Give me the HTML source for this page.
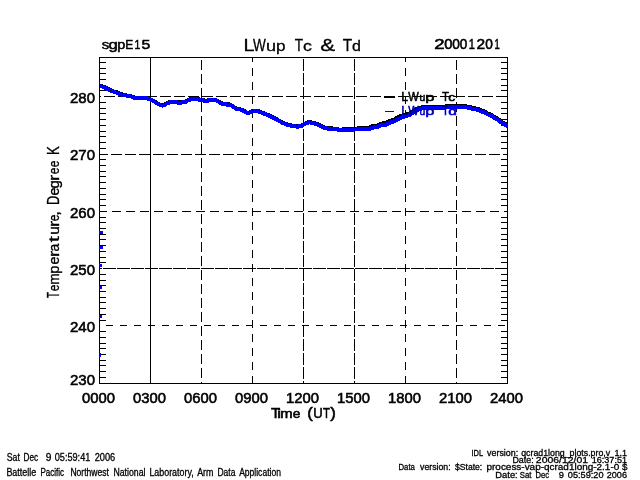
<!DOCTYPE html>
<html><head><meta charset="utf-8"><title>LWup Tc &amp; Td</title>
<style>
html,body{margin:0;padding:0;background:#fff;width:640px;height:480px;overflow:hidden}
svg{display:block}
text{font-family:"Liberation Sans",Arial,sans-serif;fill:#000}
</style></head><body>
<svg width="640" height="480" viewBox="0 0 640 480">
<rect x="0" y="0" width="640" height="480" fill="#fff"/>
<g shape-rendering="crispEdges">
<rect x="99" y="96" width="2" height="1" fill="#000"/><rect x="104" y="96" width="11" height="1" fill="#000"/><rect x="118" y="96" width="11" height="1" fill="#000"/><rect x="132" y="96" width="11" height="1" fill="#000"/><rect x="146" y="96" width="11" height="1" fill="#000"/><rect x="160" y="96" width="11" height="1" fill="#000"/><rect x="174" y="96" width="11" height="1" fill="#000"/><rect x="188" y="96" width="11" height="1" fill="#000"/><rect x="202" y="96" width="11" height="1" fill="#000"/><rect x="216" y="96" width="11" height="1" fill="#000"/><rect x="230" y="96" width="11" height="1" fill="#000"/><rect x="244" y="96" width="11" height="1" fill="#000"/><rect x="258" y="96" width="11" height="1" fill="#000"/><rect x="272" y="96" width="11" height="1" fill="#000"/><rect x="286" y="96" width="11" height="1" fill="#000"/><rect x="300" y="96" width="11" height="1" fill="#000"/><rect x="314" y="96" width="11" height="1" fill="#000"/><rect x="328" y="96" width="11" height="1" fill="#000"/><rect x="342" y="96" width="11" height="1" fill="#000"/><rect x="356" y="96" width="11" height="1" fill="#000"/><rect x="370" y="96" width="11" height="1" fill="#000"/><rect x="384" y="96" width="11" height="1" fill="#000"/><rect x="398" y="96" width="11" height="1" fill="#000"/><rect x="412" y="96" width="11" height="1" fill="#000"/><rect x="426" y="96" width="11" height="1" fill="#000"/><rect x="440" y="96" width="11" height="1" fill="#000"/><rect x="454" y="96" width="11" height="1" fill="#000"/><rect x="468" y="96" width="11" height="1" fill="#000"/><rect x="482" y="96" width="11" height="1" fill="#000"/><rect x="496" y="96" width="11" height="1" fill="#000"/><rect x="99" y="154" width="9" height="1" fill="#000"/><rect x="111" y="154" width="11" height="1" fill="#000"/><rect x="125" y="154" width="11" height="1" fill="#000"/><rect x="139" y="154" width="11" height="1" fill="#000"/><rect x="153" y="154" width="11" height="1" fill="#000"/><rect x="167" y="154" width="11" height="1" fill="#000"/><rect x="181" y="154" width="11" height="1" fill="#000"/><rect x="195" y="154" width="11" height="1" fill="#000"/><rect x="209" y="154" width="11" height="1" fill="#000"/><rect x="223" y="154" width="11" height="1" fill="#000"/><rect x="237" y="154" width="11" height="1" fill="#000"/><rect x="251" y="154" width="11" height="1" fill="#000"/><rect x="265" y="154" width="11" height="1" fill="#000"/><rect x="279" y="154" width="11" height="1" fill="#000"/><rect x="293" y="154" width="11" height="1" fill="#000"/><rect x="307" y="154" width="11" height="1" fill="#000"/><rect x="321" y="154" width="11" height="1" fill="#000"/><rect x="335" y="154" width="11" height="1" fill="#000"/><rect x="349" y="154" width="11" height="1" fill="#000"/><rect x="363" y="154" width="11" height="1" fill="#000"/><rect x="377" y="154" width="11" height="1" fill="#000"/><rect x="391" y="154" width="11" height="1" fill="#000"/><rect x="405" y="154" width="11" height="1" fill="#000"/><rect x="419" y="154" width="11" height="1" fill="#000"/><rect x="433" y="154" width="11" height="1" fill="#000"/><rect x="447" y="154" width="11" height="1" fill="#000"/><rect x="461" y="154" width="11" height="1" fill="#000"/><rect x="475" y="154" width="11" height="1" fill="#000"/><rect x="489" y="154" width="11" height="1" fill="#000"/><rect x="503" y="154" width="5" height="1" fill="#000"/><rect x="99" y="211" width="8" height="1" fill="#000"/><rect x="112" y="211" width="9" height="1" fill="#000"/><rect x="126" y="211" width="9" height="1" fill="#000"/><rect x="140" y="211" width="9" height="1" fill="#000"/><rect x="154" y="211" width="9" height="1" fill="#000"/><rect x="168" y="211" width="9" height="1" fill="#000"/><rect x="182" y="211" width="9" height="1" fill="#000"/><rect x="196" y="211" width="9" height="1" fill="#000"/><rect x="210" y="211" width="9" height="1" fill="#000"/><rect x="224" y="211" width="9" height="1" fill="#000"/><rect x="238" y="211" width="9" height="1" fill="#000"/><rect x="252" y="211" width="9" height="1" fill="#000"/><rect x="266" y="211" width="9" height="1" fill="#000"/><rect x="280" y="211" width="9" height="1" fill="#000"/><rect x="294" y="211" width="9" height="1" fill="#000"/><rect x="308" y="211" width="9" height="1" fill="#000"/><rect x="322" y="211" width="9" height="1" fill="#000"/><rect x="336" y="211" width="9" height="1" fill="#000"/><rect x="350" y="211" width="9" height="1" fill="#000"/><rect x="364" y="211" width="9" height="1" fill="#000"/><rect x="378" y="211" width="9" height="1" fill="#000"/><rect x="392" y="211" width="9" height="1" fill="#000"/><rect x="406" y="211" width="9" height="1" fill="#000"/><rect x="420" y="211" width="9" height="1" fill="#000"/><rect x="434" y="211" width="9" height="1" fill="#000"/><rect x="448" y="211" width="9" height="1" fill="#000"/><rect x="462" y="211" width="9" height="1" fill="#000"/><rect x="476" y="211" width="9" height="1" fill="#000"/><rect x="490" y="211" width="9" height="1" fill="#000"/><rect x="504" y="211" width="4" height="1" fill="#000"/><rect x="99" y="268" width="3" height="1" fill="#000"/><rect x="103" y="268" width="13" height="1" fill="#000"/><rect x="117" y="268" width="13" height="1" fill="#000"/><rect x="131" y="268" width="13" height="1" fill="#000"/><rect x="145" y="268" width="13" height="1" fill="#000"/><rect x="159" y="268" width="13" height="1" fill="#000"/><rect x="173" y="268" width="13" height="1" fill="#000"/><rect x="187" y="268" width="13" height="1" fill="#000"/><rect x="201" y="268" width="13" height="1" fill="#000"/><rect x="215" y="268" width="13" height="1" fill="#000"/><rect x="229" y="268" width="13" height="1" fill="#000"/><rect x="243" y="268" width="13" height="1" fill="#000"/><rect x="257" y="268" width="13" height="1" fill="#000"/><rect x="271" y="268" width="13" height="1" fill="#000"/><rect x="285" y="268" width="13" height="1" fill="#000"/><rect x="299" y="268" width="13" height="1" fill="#000"/><rect x="313" y="268" width="13" height="1" fill="#000"/><rect x="327" y="268" width="13" height="1" fill="#000"/><rect x="341" y="268" width="13" height="1" fill="#000"/><rect x="355" y="268" width="13" height="1" fill="#000"/><rect x="369" y="268" width="13" height="1" fill="#000"/><rect x="383" y="268" width="13" height="1" fill="#000"/><rect x="397" y="268" width="13" height="1" fill="#000"/><rect x="411" y="268" width="13" height="1" fill="#000"/><rect x="425" y="268" width="13" height="1" fill="#000"/><rect x="439" y="268" width="13" height="1" fill="#000"/><rect x="453" y="268" width="13" height="1" fill="#000"/><rect x="467" y="268" width="13" height="1" fill="#000"/><rect x="481" y="268" width="13" height="1" fill="#000"/><rect x="495" y="268" width="13" height="1" fill="#000"/><rect x="106" y="325" width="7" height="1" fill="#000"/><rect x="120" y="325" width="7" height="1" fill="#000"/><rect x="134" y="325" width="7" height="1" fill="#000"/><rect x="148" y="325" width="7" height="1" fill="#000"/><rect x="162" y="325" width="7" height="1" fill="#000"/><rect x="176" y="325" width="7" height="1" fill="#000"/><rect x="190" y="325" width="7" height="1" fill="#000"/><rect x="204" y="325" width="7" height="1" fill="#000"/><rect x="218" y="325" width="7" height="1" fill="#000"/><rect x="232" y="325" width="7" height="1" fill="#000"/><rect x="246" y="325" width="7" height="1" fill="#000"/><rect x="260" y="325" width="7" height="1" fill="#000"/><rect x="274" y="325" width="7" height="1" fill="#000"/><rect x="288" y="325" width="7" height="1" fill="#000"/><rect x="302" y="325" width="7" height="1" fill="#000"/><rect x="316" y="325" width="7" height="1" fill="#000"/><rect x="330" y="325" width="7" height="1" fill="#000"/><rect x="344" y="325" width="7" height="1" fill="#000"/><rect x="358" y="325" width="7" height="1" fill="#000"/><rect x="372" y="325" width="7" height="1" fill="#000"/><rect x="386" y="325" width="7" height="1" fill="#000"/><rect x="400" y="325" width="7" height="1" fill="#000"/><rect x="414" y="325" width="7" height="1" fill="#000"/><rect x="428" y="325" width="7" height="1" fill="#000"/><rect x="442" y="325" width="7" height="1" fill="#000"/><rect x="456" y="325" width="7" height="1" fill="#000"/><rect x="470" y="325" width="7" height="1" fill="#000"/><rect x="484" y="325" width="7" height="1" fill="#000"/><rect x="498" y="325" width="7" height="1" fill="#000"/><rect x="150" y="57" width="1" height="327" fill="#000"/><rect x="201" y="60" width="1" height="10" fill="#000"/><rect x="201" y="74" width="1" height="10" fill="#000"/><rect x="201" y="88" width="1" height="10" fill="#000"/><rect x="201" y="102" width="1" height="10" fill="#000"/><rect x="201" y="116" width="1" height="10" fill="#000"/><rect x="201" y="130" width="1" height="10" fill="#000"/><rect x="201" y="144" width="1" height="10" fill="#000"/><rect x="201" y="158" width="1" height="10" fill="#000"/><rect x="201" y="172" width="1" height="10" fill="#000"/><rect x="201" y="186" width="1" height="10" fill="#000"/><rect x="201" y="200" width="1" height="10" fill="#000"/><rect x="201" y="214" width="1" height="10" fill="#000"/><rect x="201" y="228" width="1" height="10" fill="#000"/><rect x="201" y="242" width="1" height="10" fill="#000"/><rect x="201" y="256" width="1" height="10" fill="#000"/><rect x="201" y="270" width="1" height="10" fill="#000"/><rect x="201" y="284" width="1" height="10" fill="#000"/><rect x="201" y="298" width="1" height="10" fill="#000"/><rect x="201" y="312" width="1" height="10" fill="#000"/><rect x="201" y="326" width="1" height="10" fill="#000"/><rect x="201" y="340" width="1" height="10" fill="#000"/><rect x="201" y="354" width="1" height="10" fill="#000"/><rect x="201" y="368" width="1" height="10" fill="#000"/><rect x="201" y="382" width="1" height="2" fill="#000"/><rect x="252" y="57" width="1" height="5" fill="#000"/><rect x="252" y="68" width="1" height="8" fill="#000"/><rect x="252" y="82" width="1" height="8" fill="#000"/><rect x="252" y="96" width="1" height="8" fill="#000"/><rect x="252" y="110" width="1" height="8" fill="#000"/><rect x="252" y="124" width="1" height="8" fill="#000"/><rect x="252" y="138" width="1" height="8" fill="#000"/><rect x="252" y="152" width="1" height="8" fill="#000"/><rect x="252" y="166" width="1" height="8" fill="#000"/><rect x="252" y="180" width="1" height="8" fill="#000"/><rect x="252" y="194" width="1" height="8" fill="#000"/><rect x="252" y="208" width="1" height="8" fill="#000"/><rect x="252" y="222" width="1" height="8" fill="#000"/><rect x="252" y="236" width="1" height="8" fill="#000"/><rect x="252" y="250" width="1" height="8" fill="#000"/><rect x="252" y="264" width="1" height="8" fill="#000"/><rect x="252" y="278" width="1" height="8" fill="#000"/><rect x="252" y="292" width="1" height="8" fill="#000"/><rect x="252" y="306" width="1" height="8" fill="#000"/><rect x="252" y="320" width="1" height="8" fill="#000"/><rect x="252" y="334" width="1" height="8" fill="#000"/><rect x="252" y="348" width="1" height="8" fill="#000"/><rect x="252" y="362" width="1" height="8" fill="#000"/><rect x="252" y="376" width="1" height="8" fill="#000"/><rect x="303" y="59" width="1" height="12" fill="#000"/><rect x="303" y="73" width="1" height="12" fill="#000"/><rect x="303" y="87" width="1" height="12" fill="#000"/><rect x="303" y="101" width="1" height="12" fill="#000"/><rect x="303" y="115" width="1" height="12" fill="#000"/><rect x="303" y="129" width="1" height="12" fill="#000"/><rect x="303" y="143" width="1" height="12" fill="#000"/><rect x="303" y="157" width="1" height="12" fill="#000"/><rect x="303" y="171" width="1" height="12" fill="#000"/><rect x="303" y="185" width="1" height="12" fill="#000"/><rect x="303" y="199" width="1" height="12" fill="#000"/><rect x="303" y="213" width="1" height="12" fill="#000"/><rect x="303" y="227" width="1" height="12" fill="#000"/><rect x="303" y="241" width="1" height="12" fill="#000"/><rect x="303" y="255" width="1" height="12" fill="#000"/><rect x="303" y="269" width="1" height="12" fill="#000"/><rect x="303" y="283" width="1" height="12" fill="#000"/><rect x="303" y="297" width="1" height="12" fill="#000"/><rect x="303" y="311" width="1" height="12" fill="#000"/><rect x="303" y="325" width="1" height="12" fill="#000"/><rect x="303" y="339" width="1" height="12" fill="#000"/><rect x="303" y="353" width="1" height="12" fill="#000"/><rect x="303" y="367" width="1" height="12" fill="#000"/><rect x="303" y="381" width="1" height="3" fill="#000"/><rect x="354" y="59" width="1" height="12" fill="#000"/><rect x="354" y="73" width="1" height="12" fill="#000"/><rect x="354" y="87" width="1" height="12" fill="#000"/><rect x="354" y="101" width="1" height="12" fill="#000"/><rect x="354" y="115" width="1" height="12" fill="#000"/><rect x="354" y="129" width="1" height="12" fill="#000"/><rect x="354" y="143" width="1" height="12" fill="#000"/><rect x="354" y="157" width="1" height="12" fill="#000"/><rect x="354" y="171" width="1" height="12" fill="#000"/><rect x="354" y="185" width="1" height="12" fill="#000"/><rect x="354" y="199" width="1" height="12" fill="#000"/><rect x="354" y="213" width="1" height="12" fill="#000"/><rect x="354" y="227" width="1" height="12" fill="#000"/><rect x="354" y="241" width="1" height="12" fill="#000"/><rect x="354" y="255" width="1" height="12" fill="#000"/><rect x="354" y="269" width="1" height="12" fill="#000"/><rect x="354" y="283" width="1" height="12" fill="#000"/><rect x="354" y="297" width="1" height="12" fill="#000"/><rect x="354" y="311" width="1" height="12" fill="#000"/><rect x="354" y="325" width="1" height="12" fill="#000"/><rect x="354" y="339" width="1" height="12" fill="#000"/><rect x="354" y="353" width="1" height="12" fill="#000"/><rect x="354" y="367" width="1" height="12" fill="#000"/><rect x="354" y="381" width="1" height="3" fill="#000"/><rect x="405" y="57" width="1" height="5" fill="#000"/><rect x="405" y="68" width="1" height="8" fill="#000"/><rect x="405" y="82" width="1" height="8" fill="#000"/><rect x="405" y="96" width="1" height="8" fill="#000"/><rect x="405" y="110" width="1" height="8" fill="#000"/><rect x="405" y="124" width="1" height="8" fill="#000"/><rect x="405" y="138" width="1" height="8" fill="#000"/><rect x="405" y="152" width="1" height="8" fill="#000"/><rect x="405" y="166" width="1" height="8" fill="#000"/><rect x="405" y="180" width="1" height="8" fill="#000"/><rect x="405" y="194" width="1" height="8" fill="#000"/><rect x="405" y="208" width="1" height="8" fill="#000"/><rect x="405" y="222" width="1" height="8" fill="#000"/><rect x="405" y="236" width="1" height="8" fill="#000"/><rect x="405" y="250" width="1" height="8" fill="#000"/><rect x="405" y="264" width="1" height="8" fill="#000"/><rect x="405" y="278" width="1" height="8" fill="#000"/><rect x="405" y="292" width="1" height="8" fill="#000"/><rect x="405" y="306" width="1" height="8" fill="#000"/><rect x="405" y="320" width="1" height="8" fill="#000"/><rect x="405" y="334" width="1" height="8" fill="#000"/><rect x="405" y="348" width="1" height="8" fill="#000"/><rect x="405" y="362" width="1" height="8" fill="#000"/><rect x="405" y="376" width="1" height="8" fill="#000"/><rect x="456" y="60" width="1" height="10" fill="#000"/><rect x="456" y="74" width="1" height="10" fill="#000"/><rect x="456" y="88" width="1" height="10" fill="#000"/><rect x="456" y="102" width="1" height="10" fill="#000"/><rect x="456" y="116" width="1" height="10" fill="#000"/><rect x="456" y="130" width="1" height="10" fill="#000"/><rect x="456" y="144" width="1" height="10" fill="#000"/><rect x="456" y="158" width="1" height="10" fill="#000"/><rect x="456" y="172" width="1" height="10" fill="#000"/><rect x="456" y="186" width="1" height="10" fill="#000"/><rect x="456" y="200" width="1" height="10" fill="#000"/><rect x="456" y="214" width="1" height="10" fill="#000"/><rect x="456" y="228" width="1" height="10" fill="#000"/><rect x="456" y="242" width="1" height="10" fill="#000"/><rect x="456" y="256" width="1" height="10" fill="#000"/><rect x="456" y="270" width="1" height="10" fill="#000"/><rect x="456" y="284" width="1" height="10" fill="#000"/><rect x="456" y="298" width="1" height="10" fill="#000"/><rect x="456" y="312" width="1" height="10" fill="#000"/><rect x="456" y="326" width="1" height="10" fill="#000"/><rect x="456" y="340" width="1" height="10" fill="#000"/><rect x="456" y="354" width="1" height="10" fill="#000"/><rect x="456" y="368" width="1" height="10" fill="#000"/><rect x="456" y="382" width="1" height="2" fill="#000"/><rect x="99" y="377" width="7" height="1" fill="#000"/><rect x="501" y="377" width="7" height="1" fill="#000"/><rect x="99" y="371" width="7" height="1" fill="#000"/><rect x="501" y="371" width="7" height="1" fill="#000"/><rect x="99" y="365" width="7" height="1" fill="#000"/><rect x="501" y="365" width="7" height="1" fill="#000"/><rect x="99" y="360" width="7" height="1" fill="#000"/><rect x="501" y="360" width="7" height="1" fill="#000"/><rect x="99" y="354" width="7" height="1" fill="#000"/><rect x="501" y="354" width="7" height="1" fill="#000"/><rect x="99" y="348" width="7" height="1" fill="#000"/><rect x="501" y="348" width="7" height="1" fill="#000"/><rect x="99" y="343" width="7" height="1" fill="#000"/><rect x="501" y="343" width="7" height="1" fill="#000"/><rect x="99" y="337" width="7" height="1" fill="#000"/><rect x="501" y="337" width="7" height="1" fill="#000"/><rect x="99" y="331" width="7" height="1" fill="#000"/><rect x="501" y="331" width="7" height="1" fill="#000"/><rect x="99" y="320" width="7" height="1" fill="#000"/><rect x="501" y="320" width="7" height="1" fill="#000"/><rect x="99" y="314" width="7" height="1" fill="#000"/><rect x="501" y="314" width="7" height="1" fill="#000"/><rect x="99" y="308" width="7" height="1" fill="#000"/><rect x="501" y="308" width="7" height="1" fill="#000"/><rect x="99" y="302" width="7" height="1" fill="#000"/><rect x="501" y="302" width="7" height="1" fill="#000"/><rect x="99" y="297" width="7" height="1" fill="#000"/><rect x="501" y="297" width="7" height="1" fill="#000"/><rect x="99" y="291" width="7" height="1" fill="#000"/><rect x="501" y="291" width="7" height="1" fill="#000"/><rect x="99" y="285" width="7" height="1" fill="#000"/><rect x="501" y="285" width="7" height="1" fill="#000"/><rect x="99" y="280" width="7" height="1" fill="#000"/><rect x="501" y="280" width="7" height="1" fill="#000"/><rect x="99" y="274" width="7" height="1" fill="#000"/><rect x="501" y="274" width="7" height="1" fill="#000"/><rect x="99" y="262" width="7" height="1" fill="#000"/><rect x="501" y="262" width="7" height="1" fill="#000"/><rect x="99" y="257" width="7" height="1" fill="#000"/><rect x="501" y="257" width="7" height="1" fill="#000"/><rect x="99" y="251" width="7" height="1" fill="#000"/><rect x="501" y="251" width="7" height="1" fill="#000"/><rect x="99" y="245" width="7" height="1" fill="#000"/><rect x="501" y="245" width="7" height="1" fill="#000"/><rect x="99" y="239" width="7" height="1" fill="#000"/><rect x="501" y="239" width="7" height="1" fill="#000"/><rect x="99" y="234" width="7" height="1" fill="#000"/><rect x="501" y="234" width="7" height="1" fill="#000"/><rect x="99" y="228" width="7" height="1" fill="#000"/><rect x="501" y="228" width="7" height="1" fill="#000"/><rect x="99" y="222" width="7" height="1" fill="#000"/><rect x="501" y="222" width="7" height="1" fill="#000"/><rect x="99" y="217" width="7" height="1" fill="#000"/><rect x="501" y="217" width="7" height="1" fill="#000"/><rect x="99" y="205" width="7" height="1" fill="#000"/><rect x="501" y="205" width="7" height="1" fill="#000"/><rect x="99" y="199" width="7" height="1" fill="#000"/><rect x="501" y="199" width="7" height="1" fill="#000"/><rect x="99" y="194" width="7" height="1" fill="#000"/><rect x="501" y="194" width="7" height="1" fill="#000"/><rect x="99" y="188" width="7" height="1" fill="#000"/><rect x="501" y="188" width="7" height="1" fill="#000"/><rect x="99" y="182" width="7" height="1" fill="#000"/><rect x="501" y="182" width="7" height="1" fill="#000"/><rect x="99" y="176" width="7" height="1" fill="#000"/><rect x="501" y="176" width="7" height="1" fill="#000"/><rect x="99" y="171" width="7" height="1" fill="#000"/><rect x="501" y="171" width="7" height="1" fill="#000"/><rect x="99" y="165" width="7" height="1" fill="#000"/><rect x="501" y="165" width="7" height="1" fill="#000"/><rect x="99" y="159" width="7" height="1" fill="#000"/><rect x="501" y="159" width="7" height="1" fill="#000"/><rect x="99" y="148" width="7" height="1" fill="#000"/><rect x="501" y="148" width="7" height="1" fill="#000"/><rect x="99" y="142" width="7" height="1" fill="#000"/><rect x="501" y="142" width="7" height="1" fill="#000"/><rect x="99" y="136" width="7" height="1" fill="#000"/><rect x="501" y="136" width="7" height="1" fill="#000"/><rect x="99" y="131" width="7" height="1" fill="#000"/><rect x="501" y="131" width="7" height="1" fill="#000"/><rect x="99" y="125" width="7" height="1" fill="#000"/><rect x="501" y="125" width="7" height="1" fill="#000"/><rect x="99" y="119" width="7" height="1" fill="#000"/><rect x="501" y="119" width="7" height="1" fill="#000"/><rect x="99" y="113" width="7" height="1" fill="#000"/><rect x="501" y="113" width="7" height="1" fill="#000"/><rect x="99" y="108" width="7" height="1" fill="#000"/><rect x="501" y="108" width="7" height="1" fill="#000"/><rect x="99" y="102" width="7" height="1" fill="#000"/><rect x="501" y="102" width="7" height="1" fill="#000"/><rect x="99" y="90" width="7" height="1" fill="#000"/><rect x="501" y="90" width="7" height="1" fill="#000"/><rect x="99" y="85" width="7" height="1" fill="#000"/><rect x="501" y="85" width="7" height="1" fill="#000"/><rect x="99" y="79" width="7" height="1" fill="#000"/><rect x="501" y="79" width="7" height="1" fill="#000"/><rect x="99" y="73" width="7" height="1" fill="#000"/><rect x="501" y="73" width="7" height="1" fill="#000"/><rect x="99" y="68" width="7" height="1" fill="#000"/><rect x="501" y="68" width="7" height="1" fill="#000"/><rect x="99" y="62" width="7" height="1" fill="#000"/><rect x="501" y="62" width="7" height="1" fill="#000"/><rect x="99" y="57" width="409" height="1" fill="#000"/><rect x="99" y="383" width="409" height="1" fill="#000"/><rect x="99" y="57" width="1" height="327" fill="#000"/><rect x="507" y="57" width="1" height="327" fill="#000"/>
</g>
<clipPath id="pc"><rect x="100" y="57" width="408" height="327"/></clipPath>
<g clip-path="url(#pc)" shape-rendering="crispEdges"><polyline points="100.00,85.70 100.50,85.70 105.50,87.50 110.50,90.20 115.50,92.10 117.00,92.30 120.50,94.10 124.00,94.70 128.00,95.70 131.00,96.20 134.00,97.30 136.50,98.20 138.00,97.50 142.00,97.50 144.00,97.70 148.00,98.30 151.50,99.80 155.00,101.70 158.00,103.60 160.50,104.90 162.50,105.30 164.00,105.00 166.00,103.70 168.00,102.70 170.00,102.10 173.00,101.60 176.00,101.70 178.00,102.30 181.00,102.40 183.50,101.70 186.00,101.30 188.00,100.20 190.00,99.30 194.00,98.90 197.00,98.90 200.00,99.50 202.00,99.80 205.00,100.70 207.00,100.70 209.00,99.90 212.00,99.70 215.50,99.90 218.00,100.90 221.00,103.10 224.00,104.00 230.00,104.50 233.00,106.20 236.00,108.30 240.00,109.20 242.50,110.20 245.50,111.70 248.00,113.10 251.50,111.40 257.50,110.70 262.50,112.80 267.50,114.70 272.50,117.20 277.50,119.70 282.50,122.50 287.50,124.50 292.50,125.70 297.50,126.40 301.50,125.50 305.00,123.70 308.75,121.90 312.50,122.70 317.50,124.10 322.50,126.70 325.50,128.10 331.00,128.48 336.00,128.55 338.00,129.20 340.50,129.94 343.00,129.38 347.00,129.18 351.00,128.78 356.00,128.60 360.00,128.13 366.00,127.91 370.00,127.42 372.00,126.37 377.00,125.92 379.00,124.85 381.00,123.67 386.00,123.12 388.00,121.88 391.00,120.60 394.00,119.63 396.00,118.29 399.00,116.72 403.00,115.05 405.00,114.55 409.00,113.65 412.00,111.77 416.00,109.40 420.00,107.63 423.00,107.13 432.00,107.00 445.00,106.60 447.00,106.00 466.00,106.00 468.00,107.00 469.50,107.10 474.00,108.00 478.50,109.20 481.50,110.50 484.50,111.50 487.50,113.30 490.50,114.30 493.00,116.00 496.00,117.75 499.00,119.75 502.00,121.90 505.00,124.00 508.00,125.20" fill="none" stroke="#000" stroke-width="4" stroke-linejoin="round"/>
<polyline points="100.00,86.00 100.50,86.00 105.50,87.80 110.50,90.50 115.50,92.40 117.00,92.60 120.50,94.40 124.00,95.00 128.00,96.00 131.00,96.50 134.00,97.60 136.50,98.50 138.00,97.80 142.00,97.80 144.00,98.00 148.00,98.60 151.50,100.10 155.00,102.00 158.00,103.90 160.50,105.20 162.50,105.60 164.00,105.30 166.00,104.00 168.00,103.00 170.00,102.40 173.00,101.90 176.00,102.00 178.00,102.60 181.00,102.70 183.50,102.00 186.00,101.60 188.00,100.50 190.00,99.60 194.00,99.20 197.00,99.20 200.00,99.80 202.00,100.10 205.00,101.00 207.00,101.00 209.00,100.20 212.00,100.00 215.50,100.20 218.00,101.20 221.00,103.40 224.00,104.30 230.00,104.80 233.00,106.50 236.00,108.60 240.00,109.50 242.50,110.50 245.50,112.00 248.00,113.40 251.50,111.70 257.50,111.00 262.50,113.10 267.50,115.00 272.50,117.50 277.50,120.00 282.50,122.80 287.50,124.80 292.50,126.00 297.50,126.70 301.50,125.80 305.00,124.00 308.75,122.20 312.50,123.00 317.50,124.40 322.50,127.00 325.50,128.40 331.00,128.80 336.00,129.00 338.00,129.70 340.50,130.50 343.00,130.00 347.00,129.90 351.00,129.60 356.00,129.50 360.00,129.10 366.00,129.00 370.00,128.60 372.00,127.60 377.00,127.30 379.00,126.30 381.00,125.20 386.00,124.80 388.00,123.60 391.00,122.40 394.00,121.50 396.00,120.20 399.00,118.70 403.00,116.90 405.00,116.30 409.00,115.20 412.00,113.20 416.00,110.70 420.00,108.80 423.00,108.20 432.00,108.00 445.00,107.60 447.00,107.00 466.00,107.00 468.00,108.00 469.50,108.10 474.00,109.00 478.50,110.20 481.50,111.50 484.50,112.50 487.50,114.30 490.50,115.30 493.00,117.00 496.00,118.75 499.00,120.75 502.00,122.90 505.00,125.00 508.00,126.20" fill="none" stroke="#0000ff" stroke-width="4" stroke-linejoin="round"/></g>
<g fill="#0000ff" shape-rendering="crispEdges"><rect x="99" y="231" width="4" height="3"/><rect x="99" y="246" width="4" height="3"/><rect x="99" y="264" width="3" height="3"/><rect x="99" y="286" width="3" height="3"/><rect x="99" y="315" width="3" height="3"/><rect x="99" y="353" width="2" height="4"/></g>
<rect x="384" y="96" width="11" height="2" fill="#000" shape-rendering="crispEdges"/>
<rect x="385" y="111" width="9" height="1" fill="#0000ff" shape-rendering="crispEdges"/>
<g>
<g stroke="#000" stroke-width="0.55"><text transform="translate(401.26,101) scale(0.9508135275577136,1)" font-size="13">L</text><text transform="translate(408.23,101) scale(0.858777737650977,1)" font-size="13">W</text><text transform="translate(419.59,101) scale(0.9109045477261369,1)" font-size="11.5">u</text><text transform="translate(425.21,101) scale(1.4405513855450125,1)" font-size="11.5">p</text><text transform="translate(442.02,101) scale(0.8774810681546433,1)" font-size="13">T</text><text transform="translate(448.19,101) scale(1.200019695701413,1)" font-size="11.5">c</text></g>
<g style="fill:#0000ff" stroke="#0000ff" stroke-width="0.55"><text transform="translate(401.26,115) scale(0.9508135275577136,1)" font-size="13">L</text><text transform="translate(408.23,115) scale(0.858777737650977,1)" font-size="13">W</text><text transform="translate(419.59,115) scale(0.9109045477261369,1)" font-size="11.5">u</text><text transform="translate(425.21,115) scale(1.4405513855450125,1)" font-size="11.5">p</text><text transform="translate(442.02,115) scale(0.8774810681546433,1)" font-size="13">T</text><text transform="translate(448.13,115) scale(1.343870084501723,1)" font-size="11.5">d</text></g>
<g stroke="#000" stroke-width="0.5"><text transform="translate(101.84,49) scale(1.1925643896976483,1)" font-size="12.5">s</text><text transform="translate(108.55,49) scale(1.3342019543973942,1)" font-size="12.5">g</text><text transform="translate(117.32,49) scale(1.1563083604777415,1)" font-size="12.5">p</text><text transform="translate(125.27,49) scale(0.9225225225225225,1)" font-size="13">E</text><text transform="translate(134.45,49) scale(0.8028573917588641,1)" font-size="13">1</text><text transform="translate(141.62,49) scale(1.216826427948982,1)" font-size="13">5</text></g>
<g stroke="#000" stroke-width="0.3"><text transform="translate(243.53,51) scale(1.1339977851605758,1)" font-size="17.4">L</text><text transform="translate(253.09,51) scale(0.7797624401153623,1)" font-size="17.4">W</text><text transform="translate(265.97,51) scale(1.1694178717093067,1)" font-size="15.5">u</text><text transform="translate(276.05,51) scale(1.1046618332107456,1)" font-size="15.5">p</text><text transform="translate(294.84,51) scale(0.7826414944513927,1)" font-size="17.4">T</text><text transform="translate(302.89,51) scale(1.1522010740510722,1)" font-size="15.5">c</text><text transform="translate(320.37,51) scale(1.2777383099258612,1)" font-size="17.4">&amp;</text><text transform="translate(342.80,51) scale(0.8842832469775476,1)" font-size="17.4">T</text><text transform="translate(351.98,51) scale(1.032930545339918,1)" font-size="15.5">d</text></g>
<g stroke="#000" stroke-width="0.55"><text transform="translate(434.34,49) scale(1.324881335170724,1)" font-size="14">2</text><text transform="translate(444.30,49) scale(1.053436451189255,1)" font-size="14">0</text><text transform="translate(452.14,49) scale(0.9787246461403799,1)" font-size="14">0</text><text transform="translate(459.75,49) scale(0.9637822851305997,1)" font-size="14">0</text><text transform="translate(468.64,49) scale(0.7869276816049202,1)" font-size="14">1</text><text transform="translate(476.40,49) scale(1.10537436839688,1)" font-size="14">2</text><text transform="translate(485.34,49) scale(0.9787246461403714,1)" font-size="14">0</text><text transform="translate(494.46,49) scale(0.6709593916841973,1)" font-size="14">1</text></g>
<text x="70" y="103" font-size="14" textLength="25" lengthAdjust="spacingAndGlyphs" stroke="#000" stroke-width="0.55">280</text>
<text x="70" y="160" font-size="14" textLength="25" lengthAdjust="spacingAndGlyphs" stroke="#000" stroke-width="0.55">270</text>
<text x="70" y="218" font-size="14" textLength="25" lengthAdjust="spacingAndGlyphs" stroke="#000" stroke-width="0.55">260</text>
<text x="70" y="275" font-size="14" textLength="25" lengthAdjust="spacingAndGlyphs" stroke="#000" stroke-width="0.55">250</text>
<text x="70" y="332" font-size="14" textLength="25" lengthAdjust="spacingAndGlyphs" stroke="#000" stroke-width="0.55">240</text>
<text x="70" y="385" font-size="14" textLength="25" lengthAdjust="spacingAndGlyphs" stroke="#000" stroke-width="0.55">230</text>
<text x="82" y="403" font-size="14" textLength="33" lengthAdjust="spacingAndGlyphs" stroke="#000" stroke-width="0.55">0000</text>
<text x="133" y="403" font-size="14" textLength="33" lengthAdjust="spacingAndGlyphs" stroke="#000" stroke-width="0.55">0300</text>
<text x="184" y="403" font-size="14" textLength="33" lengthAdjust="spacingAndGlyphs" stroke="#000" stroke-width="0.55">0600</text>
<text x="235" y="403" font-size="14" textLength="33" lengthAdjust="spacingAndGlyphs" stroke="#000" stroke-width="0.55">0900</text>
<text x="286" y="403" font-size="14" textLength="33" lengthAdjust="spacingAndGlyphs" stroke="#000" stroke-width="0.55">1200</text>
<text x="337" y="403" font-size="14" textLength="33" lengthAdjust="spacingAndGlyphs" stroke="#000" stroke-width="0.55">1500</text>
<text x="388" y="403" font-size="14" textLength="33" lengthAdjust="spacingAndGlyphs" stroke="#000" stroke-width="0.55">1800</text>
<text x="439" y="403" font-size="14" textLength="33" lengthAdjust="spacingAndGlyphs" stroke="#000" stroke-width="0.55">2100</text>
<text x="490" y="403" font-size="14" textLength="33" lengthAdjust="spacingAndGlyphs" stroke="#000" stroke-width="0.55">2400</text>
<g stroke="#000" stroke-width="0.55"><text transform="translate(270.94,418) scale(1.0306473706152104,1)" font-size="14.5">T</text><text transform="translate(277.17,418) scale(1.3748148148148147,1)" font-size="12">i</text><text transform="translate(280.28,418) scale(1.2428339140534261,1)" font-size="12">m</text><text transform="translate(292.69,418) scale(1.1454734651404788,1)" font-size="12">e</text><text transform="translate(307.23,418) scale(1.1575030164475775,1)" font-size="14.5">(</text><text transform="translate(313.26,418) scale(0.9047706585228452,1)" font-size="14.5">U</text><text transform="translate(323.02,418) scale(0.7867071645524388,1)" font-size="14.5">T</text><text transform="translate(330.18,418) scale(1.1575030164475775,1)" font-size="14.5">)</text></g>
<g transform="translate(59,298) rotate(-90)"><g stroke="#000" stroke-width="0.35"><text transform="translate(-0.05,0) scale(0.6245250431778929,1)" font-size="16">T</text><text transform="translate(6.66,0) scale(0.7921572922942112,1)" font-size="15.2">e</text><text transform="translate(13.26,0) scale(0.9060700531817348,1)" font-size="15.2">m</text><text transform="translate(24.22,0) scale(0.9728555917481,1)" font-size="15.2">p</text><text transform="translate(33.57,0) scale(0.9323621227887618,1)" font-size="15.2">e</text><text transform="translate(40.94,0) scale(1.223684210526316,1)" font-size="15.2">r</text><text transform="translate(46.58,0) scale(0.915749449669802,1)" font-size="15.2">a</text><text transform="translate(55.84,0) scale(1.455570091576935,1)" font-size="15.2">t</text><text transform="translate(63.16,0) scale(1.0298850574712644,1)" font-size="15.2">u</text><text transform="translate(70.94,0) scale(1.223684210526316,1)" font-size="15.2">r</text><text transform="translate(76.66,0) scale(0.7921572922942112,1)" font-size="15.2">e</text><text transform="translate(82.16,0) scale(1.0507462686567164,1)" font-size="16">,</text><text transform="translate(93.12,0) scale(0.8072547403132729,1)" font-size="16">D</text><text transform="translate(102.57,0) scale(0.9323621227887618,1)" font-size="15.2">e</text><text transform="translate(109.55,0) scale(0.9728555917481,1)" font-size="15.2">g</text><text transform="translate(116.94,0) scale(1.223684210526316,1)" font-size="15.2">r</text><text transform="translate(123.66,0) scale(0.7921572922942112,1)" font-size="15.2">e</text><text transform="translate(130.66,0) scale(0.7921572922942112,1)" font-size="15.2">e</text><text transform="translate(143.08,0) scale(0.8333617021276596,1)" font-size="16">K</text></g>
</g><g stroke="#000" stroke-width="0.3"><text x="6.75" y="461" font-size="10" textLength="13.16" lengthAdjust="spacingAndGlyphs">Sat</text><text x="23.48" y="461" font-size="10" textLength="14.59" lengthAdjust="spacingAndGlyphs">Dec</text><text x="45.67" y="461" font-size="10" textLength="5.66" lengthAdjust="spacingAndGlyphs">9</text><text x="54.79" y="461" font-size="10" textLength="35.50" lengthAdjust="spacingAndGlyphs">05:59:41</text><text x="94.68" y="461" font-size="10" textLength="20.57" lengthAdjust="spacingAndGlyphs">2006</text>
<text x="6.42" y="476" font-size="10" textLength="29.83" lengthAdjust="spacingAndGlyphs">Battelle</text><text x="40.49" y="476" font-size="10" textLength="23.57" lengthAdjust="spacingAndGlyphs">Pacific</text><text x="70.45" y="476" font-size="10" textLength="38.46" lengthAdjust="spacingAndGlyphs">Northwest</text><text x="113.43" y="476" font-size="10" textLength="32.00" lengthAdjust="spacingAndGlyphs">National</text><text x="149.43" y="476" font-size="10" textLength="44.20" lengthAdjust="spacingAndGlyphs">Laboratory,</text><text x="197.13" y="476" font-size="10" textLength="16.30" lengthAdjust="spacingAndGlyphs">Arm</text><text x="217.46" y="476" font-size="10" textLength="17.89" lengthAdjust="spacingAndGlyphs">Data</text><text x="239.13" y="476" font-size="10" textLength="41.77" lengthAdjust="spacingAndGlyphs">Application</text>
<text x="471.46" y="456" font-size="8.8" textLength="11.64" lengthAdjust="spacingAndGlyphs">IDL</text><text x="487.12" y="456" font-size="8.8" textLength="31.04" lengthAdjust="spacingAndGlyphs">version:</text><text x="521.18" y="456" font-size="8.8" textLength="89.00" lengthAdjust="spacingAndGlyphs">qcrad1long_plots.pro,v</text><text x="614.46" y="456" font-size="8.8" textLength="12.53" lengthAdjust="spacingAndGlyphs">1.1</text>
<text x="512.42" y="463" font-size="8.8" textLength="21.24" lengthAdjust="spacingAndGlyphs">Date:</text><text x="535.88" y="463" font-size="8.8" textLength="52.18" lengthAdjust="spacingAndGlyphs">2006/12/01</text><text x="591.76" y="463" font-size="8.8" textLength="35.23" lengthAdjust="spacingAndGlyphs">16:37:51</text>
<text x="398.52" y="470" font-size="8.8" textLength="16.33" lengthAdjust="spacingAndGlyphs">Data</text><text x="420.12" y="470" font-size="8.8" textLength="30.53" lengthAdjust="spacingAndGlyphs">version:</text><text x="455.06" y="470" font-size="8.8" textLength="27.18" lengthAdjust="spacingAndGlyphs">$State:</text><text x="486.51" y="470" font-size="8.8" textLength="132.73" lengthAdjust="spacingAndGlyphs">process-vap-qcrad1long-2.1-0</text><text x="622.04" y="470" font-size="8.8" textLength="5.46" lengthAdjust="spacingAndGlyphs">$</text>
<text x="495.38" y="478" font-size="8.8" textLength="22.32" lengthAdjust="spacingAndGlyphs">Date:</text><text x="519.80" y="478" font-size="8.8" textLength="11.71" lengthAdjust="spacingAndGlyphs">Sat</text><text x="535.53" y="478" font-size="8.8" textLength="13.52" lengthAdjust="spacingAndGlyphs">Dec</text><text x="558.71" y="478" font-size="8.8" textLength="5.18" lengthAdjust="spacingAndGlyphs">9</text><text x="567.79" y="478" font-size="8.8" textLength="35.72" lengthAdjust="spacingAndGlyphs">05:59:20</text><text x="606.69" y="478" font-size="8.8" textLength="20.26" lengthAdjust="spacingAndGlyphs">2006</text>
</g></g>
</svg>
</body></html>
